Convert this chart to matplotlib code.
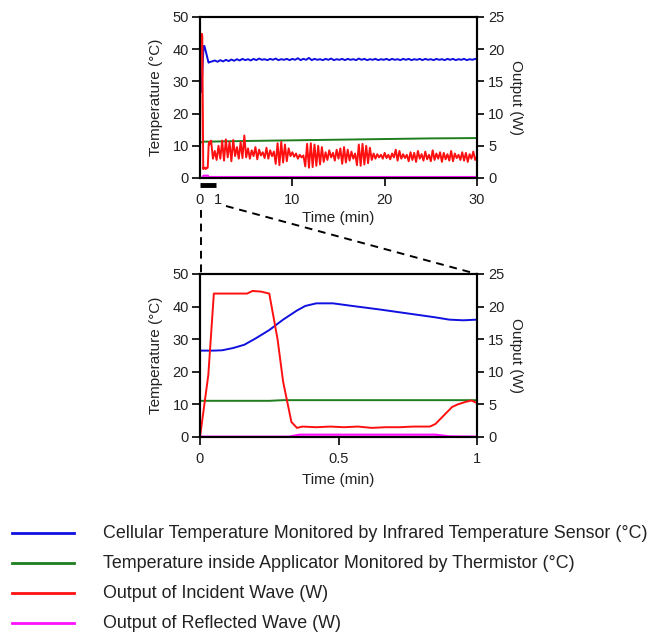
import numpy as np
import matplotlib
matplotlib.use("Agg")
import matplotlib.pyplot as plt
from matplotlib.lines import Line2D

plt.rcParams['font.family'] = ['Liberation Sans', 'DejaVu Sans']

# ---------------- data ----------------
# detail: first minute
red_detail_t = [0.0, 0.03, 0.05, 0.10, 0.17, 0.19, 0.22, 0.25, 0.28, 0.30, 0.33, 0.35, 0.37,
                0.42, 0.47, 0.52, 0.57, 0.62, 0.67, 0.72, 0.77, 0.83, 0.85, 0.88, 0.91, 0.93,
                0.96, 0.98, 1.0]
red_detail_w = [0.0, 9.5, 22.0, 22.0, 22.0, 22.4, 22.3, 22.0, 15.0, 8.5, 2.3, 1.4, 1.6,
                1.5, 1.6, 1.5, 1.6, 1.4, 1.5, 1.5, 1.6, 1.6, 2.0, 3.3, 4.6, 5.0,
                5.4, 5.6, 5.2]

blue_detail_t = [0, 0.05, 0.08, 0.12, 0.16, 0.2, 0.25, 0.3, 0.35, 0.38, 0.42, 0.48, 0.55,
                 0.65, 0.75, 0.85, 0.9, 0.95, 1.0]
blue_detail_c = [26.5, 26.5, 26.6, 27.3, 28.3, 30.2, 32.8, 36.0, 38.8, 40.2, 41.0, 41.0, 40.2,
                 39.1, 37.9, 36.7, 36.0, 35.8, 36.0]

green_detail_t = [0, 0.25, 0.3, 1.0]
green_detail_c = [11.1, 11.1, 11.3, 11.3]

mag_detail_t = [0, 0.32, 0.36, 0.85, 0.9, 1.0]
mag_detail_w = [0.05, 0.05, 0.35, 0.35, 0.1, 0.05]

# long run after first minute (samples every 0.2 min from 1.2 min)
red_long_t0, red_long_dt = 1.2, 0.2
red_long_w = [
    5.8, 3.0, 4.2, 2.8, 5.0, 3.0, 5.8, 2.7, 6.0, 3.2, 5.6, 2.6, 5.9, 3.4, 4.8, 3.0, 5.6, 3.1, 6.6, 3.2,
    4.6, 3.0, 4.3, 3.4, 4.8, 2.9, 4.4, 3.5, 4.0, 3.1, 4.7, 3.0, 4.3, 3.4, 4.1,
    2.2, 5.4, 2.0, 5.6, 2.4, 5.2, 2.6, 4.6,
    3.4, 4.0, 3.3, 3.8, 3.0, 3.6, 3.2, 3.5,
    1.8, 5.3, 1.6, 5.4, 1.7, 5.2, 1.9, 5.0, 2.1, 4.8, 2.5,
    4.0, 2.8, 4.3, 3.2, 3.9, 2.7, 4.4, 3.0,
    4.6, 2.2, 4.8, 2.4, 4.4, 2.7, 4.1, 3.0, 3.8,
    2.0, 5.2, 1.9, 5.3, 2.1, 5.0, 2.3, 4.7, 2.8,
    3.8, 3.0, 3.7, 3.2, 3.6, 3.0, 3.9, 3.1, 3.6, 2.9, 3.8, 3.2, 4.4, 2.7, 4.2, 3.0, 3.7, 3.1, 3.6,
    2.6, 4.0, 2.8, 3.9, 2.5, 4.2, 3.0, 3.7, 2.7, 4.1, 2.9, 3.6, 2.6, 4.3, 2.8, 3.8, 3.0, 4.0, 2.5,
    3.9, 2.9, 3.7, 2.7, 4.2, 2.6, 3.8, 3.1, 3.6, 2.8, 4.0, 2.7, 3.9, 2.5, 3.7, 3.0, 4.1, 2.8, 3.4,
]

blue_long_t0, blue_long_dt = 1.3, 0.3
blue_long_c = [
    36.2, 36.5, 36.1, 36.6, 36.2, 36.7, 36.3, 36.8, 36.4, 36.9,
    36.5, 37.0, 36.6, 36.9, 36.5, 37.0, 36.6, 37.1, 36.7, 36.9,
    36.6, 37.0, 36.7, 37.1, 36.6, 36.9, 36.7, 37.0, 36.6, 37.0,
    36.7, 37.2, 36.6, 37.0, 36.7, 37.3, 36.6, 37.0, 36.7, 36.9,
    36.6, 37.0, 36.7, 37.1, 36.6, 36.9, 36.7, 37.0, 36.6, 37.0,
    36.7, 36.9, 36.6, 37.1, 36.7, 37.0, 36.6, 36.9, 36.7, 37.0,
    36.6, 36.9, 36.7, 37.0, 36.6, 37.0, 36.7, 36.9, 36.6, 37.0,
    36.7, 37.0, 36.6, 36.9, 36.7, 37.0, 36.6, 37.0, 36.7, 36.9,
    36.6, 37.0, 36.7, 36.9, 36.6, 37.0, 36.7, 37.0, 36.6, 36.9,
    36.7, 37.0, 36.6, 36.9, 36.7, 37.0, 36.8,
]

green_long_t = [1, 5, 10, 15, 20, 25, 30]
green_long_c = [11.3, 11.5, 11.7, 11.9, 12.1, 12.3, 12.4]

mag_long_t = [1.0, 30.0]
mag_long_w = [0.15, 0.15]

legend_labels = [
    "Cellular Temperature Monitored by Infrared Temperature Sensor (\u00b0C)",
    "Temperature inside Applicator Monitored by Thermistor (\u00b0C)",
    "Output of Incident Wave (W)",
    "Output of Reflected Wave (W)",
]

C_BLUE = '#1010e0'
C_GREEN = '#1e7d1e'
C_RED = '#ff1010'
C_MAG = '#ff10ff'
TXT = '#222222'

# ---------------- figure ----------------
W, H = 649, 633
fig = plt.figure(figsize=(W / 100, H / 100), dpi=100)

def frac(x, y):
    return x / W, 1 - y / H

def style_axes(ax, ax2):
    for s in ax.spines.values():
        s.set_linewidth(1.5)
        s.set_color('black')
    for s in ax2.spines.values():
        s.set_linewidth(1.5)
        s.set_color('black')
    ax.tick_params(axis='both', direction='out', length=6, width=1.2,
                   labelsize=10.5, colors='black', labelcolor=TXT, pad=2)
    ax2.tick_params(axis='y', direction='out', length=5, width=1.2,
                    labelsize=10.5, colors='black', labelcolor=TXT, pad=3)
    ax.set_ylim(0, 50)
    ax.set_yticks([0, 10, 20, 30, 40, 50])
    ax2.set_ylim(0, 25)
    ax2.set_yticks([0, 5, 10, 15, 20, 25])
    ax.set_ylabel("Temperature (\u00b0C)", fontsize=11, color=TXT, labelpad=7)
    ax2.set_ylabel("Output (W)", fontsize=11, color=TXT, rotation=270, labelpad=13)
    ax.set_xlabel("Time (min)", fontsize=11, color=TXT, labelpad=3)

# top axes
l, b = frac(200, 178)
r, t = frac(477, 17)
ax = fig.add_axes([l, b, r - l, t - b])
ax2 = ax.twinx()

blue_t = np.concatenate([blue_detail_t, blue_long_t0 + blue_long_dt * np.arange(len(blue_long_c))])
blue_c = np.concatenate([blue_detail_c, blue_long_c])
green_t = np.concatenate([green_detail_t, green_long_t])
green_c = np.concatenate([green_detail_c, green_long_c])
red_t = np.concatenate([red_detail_t, red_long_t0 + red_long_dt * np.arange(len(red_long_w))])
red_w = np.concatenate([red_detail_w, red_long_w])
mag_t = np.concatenate([mag_detail_t, mag_long_t])
mag_w = np.concatenate([mag_detail_w, mag_long_w])

ax.plot(green_t, green_c, color=C_GREEN, lw=1.4)
ax.plot(blue_t, blue_c, color=C_BLUE, lw=1.4)
ax2.plot(mag_t, mag_w, color=C_MAG, lw=1.6)
ax2.plot(red_t, red_w, color=C_RED, lw=1.4)
ax.set_xlim(0, 30)
ax2.set_xlim(0, 30)
style_axes(ax, ax2)
ax.set_xticks([0, 1.95, 10, 20, 30])
ax.set_xticklabels(['0', '1', '10', '20', '30'])
ax.xaxis.get_major_ticks()[1].tick1line.set_visible(False)
ax.xaxis.get_major_ticks()[0].tick1line.set_visible(False)
ax.tick_params(axis='x', pad=5)
# bar marking the zoomed first minute
ax.plot([0, 1.75], [-0.045, -0.045], color='black', lw=3.5,
        transform=ax.get_xaxis_transform(), clip_on=False, solid_capstyle='butt')

# bottom axes
l, b = frac(200, 437)
r, t = frac(477, 274)
bx = fig.add_axes([l, b, r - l, t - b])
bx2 = bx.twinx()
bx.plot(green_detail_t, green_detail_c, color=C_GREEN, lw=1.4)
bx.plot(blue_detail_t, blue_detail_c, color=C_BLUE, lw=1.4)
bx2.plot(mag_detail_t, mag_detail_w, color=C_MAG, lw=1.6)
bx2.plot(red_detail_t, red_detail_w, color=C_RED, lw=1.4)
bx.set_xlim(0, 1)
bx2.set_xlim(0, 1)
style_axes(bx, bx2)
bx.set_xticks([0, 0.5, 1])
bx.set_xticklabels(['0', '0.5', '1'])
bx.tick_params(axis='x', pad=5)
bx.set_xlabel("Time (min)", fontsize=11, color=TXT, labelpad=4.5)

# dashed connector lines
for (x0, y0), (x1, y1) in [((200.5, 210), (200.5, 274)), ((226, 206), (477, 274))]:
    fx0, fy0 = frac(x0, y0)
    fx1, fy1 = frac(x1, y1)
    fig.add_artist(Line2D([fx0, fx1], [fy0, fy1], color='black', lw=1.4,
                          linestyle=(0, (4, 3)), transform=fig.transFigure))

# legend
colors = [C_BLUE, C_GREEN, C_RED, C_MAG]
for i, (lab, c) in enumerate(zip(legend_labels, colors)):
    y = 533 + 30 * i
    fx0, fy = frac(12, y)
    fx1, _ = frac(74, y)
    fig.add_artist(Line2D([fx0, fx1], [fy, fy], color=c, lw=2.0, transform=fig.transFigure))
    tx, _ = frac(103, y)
    fig.text(tx, fy, lab, fontsize=12.9, color=TXT, va='center', ha='left')

fig.savefig("out.png", dpi=100)
